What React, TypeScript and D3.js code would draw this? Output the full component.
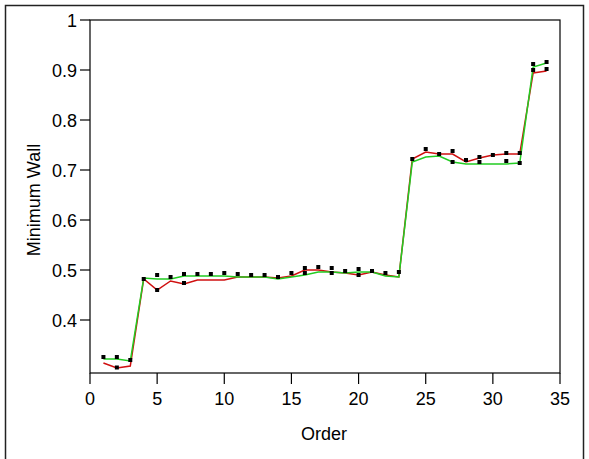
import React from "react";
import * as d3 from "d3";

const orders = [1,2,3,4,5,6,7,8,9,10,11,12,13,14,15,16,17,18,19,20,21,22,23,24,25,26,27,28,29,30,31,32,33,34];
const redValues = [0.314,0.304,0.308,0.482,0.46,0.478,0.472,0.48,0.48,0.48,0.486,0.486,0.486,0.484,0.488,0.5,0.5,0.496,0.494,0.49,0.496,0.49,0.486,0.722,0.736,0.732,0.732,0.716,0.724,0.73,0.732,0.732,0.894,0.898];
const greenValues = [0.322,0.322,0.318,0.484,0.482,0.482,0.488,0.488,0.488,0.488,0.486,0.486,0.486,0.482,0.486,0.49,0.496,0.496,0.494,0.496,0.496,0.488,0.486,0.716,0.726,0.728,0.716,0.712,0.712,0.712,0.712,0.714,0.906,0.914];
const markerValues = [0.326,0.326,0.32,0.482,0.49,0.486,0.492,0.492,0.492,0.494,0.492,0.49,0.49,0.486,0.494,0.504,0.506,0.504,0.498,0.502,0.498,0.494,0.496,0.722,0.742,0.732,0.738,0.72,0.726,0.73,0.734,0.734,0.912,0.916];
const extraOrders = [2,5,7,16,18,20,27,29,31,32,33,34];
const extraValues = [0.305,0.46,0.474,0.494,0.494,0.49,0.716,0.716,0.718,0.714,0.9,0.902];
const xTicks = [0,5,10,15,20,25,30,35];
const yTicks = [0.4,0.5,0.6,0.7,0.8,0.9,1];
const yTickLabels = ["0.4","0.5","0.6","0.7","0.8","0.9","1"];

export default function App() {
  const x = d3.scaleLinear().domain([0, 35]).range([90, 560]);
  const y = d3.scaleLinear().domain([0.294, 1]).range([373, 20]);
  const line = d3.line<[number, number]>().x(d => x(d[0])).y(d => y(d[1]));
  const redPts: [number, number][] = orders.map((o, i) => [o, redValues[i]]);
  const greenPts: [number, number][] = orders.map((o, i) => [o, greenValues[i]]);
  const markers: [number, number][] = orders.map((o, i) => [o, markerValues[i]] as [number, number])
    .concat(extraOrders.map((o, i) => [o, extraValues[i]] as [number, number]));
  const font = "'Liberation Sans', Arial, sans-serif";
  const fs = 18;
  return (
    <svg width={589} height={459} style={{ position: "absolute", left: 0, top: 0, background: "#fff" }}>
      <rect x={5.5} y={5.5} width={578} height={470} fill="#fff" stroke="#222" strokeWidth={1.5} />
      <rect x={90} y={20} width={470} height={353} fill="none" stroke="#000" strokeWidth={1.2} />
      {yTicks.map((t, i) => (
        <g key={"y" + i}>
          <line x1={80} x2={90} y1={y(t)} y2={y(t)} stroke="#000" strokeWidth={1.2} />
          <text x={77} y={y(t) + 6.5} textAnchor="end" fontFamily={font} fontSize={fs} fill="#000">{yTickLabels[i]}</text>
        </g>
      ))}
      {xTicks.map((t, i) => (
        <g key={"x" + i}>
          <line x1={x(t)} x2={x(t)} y1={373} y2={384} stroke="#000" strokeWidth={1.2} />
          <text x={x(t)} y={405} textAnchor="middle" fontFamily={font} fontSize={fs} fill="#000">{t}</text>
        </g>
      ))}
      <text x={324} y={440} textAnchor="middle" fontFamily={font} fontSize={fs} fill="#000">Order</text>
      <text transform="translate(40,200) rotate(-90)" textAnchor="middle" fontFamily={font} fontSize={fs} fill="#000">Minimum Wall</text>
      <path d={line(redPts) || ""} fill="none" stroke="#d01010" strokeWidth={1.5} />
      <path d={line(greenPts) || ""} fill="none" stroke="#22cc22" strokeWidth={1.5} />
      {markers.map((m, i) => (
        <rect key={"m" + i} x={x(m[0]) - 2} y={y(m[1]) - 2} width={4} height={4} fill="#000" />
      ))}
    </svg>
  );
}
